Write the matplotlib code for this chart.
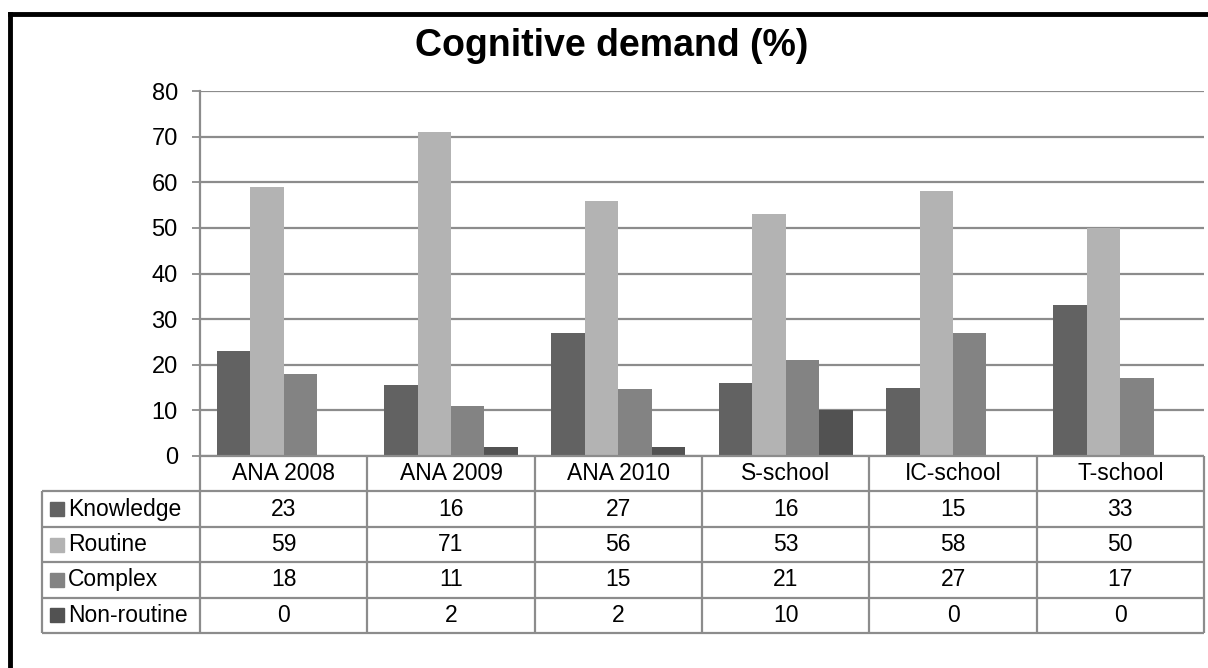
import numpy as np
import matplotlib.pyplot as plt
from matplotlib.lines import Line2D

plt.rcParams['font.family'] = ['Liberation Sans', 'DejaVu Sans']

# data
categories = ['ANA 2008', 'ANA 2009', 'ANA 2010', 'S-school', 'IC-school', 'T-school']
series_names = ['Knowledge', 'Routine', 'Complex', 'Non-routine']
knowledge = [23, 15.5, 27, 16, 15, 33]
routine = [59, 71, 56, 53, 58, 50]
complex_ = [18, 11, 14.6, 21, 27, 17]
non_routine = [0, 2, 2, 10, 0, 0]
y_ticks = [0, 10, 20, 30, 40, 50, 60, 70, 80]

series = [knowledge, routine, complex_, non_routine]
colors = ['#626262', '#b3b3b3', '#838383', '#525252']
grid_c = '#8c8c8c'

W, H = 1208, 668
fig = plt.figure(figsize=(W / 100, H / 100), dpi=100)


def fx(px):
    return px / W


def fy(py):
    return 1 - py / H


# plot area in pixels
L, R, T, B = 200, 1204, 91, 456
ax = fig.add_axes([fx(L), fy(B), fx(R - L), (B - T) / H])

n = len(categories)
x = np.arange(n)
bw = 0.2
for j, vals in enumerate(series):
    ax.bar(x + (j - 1.5) * bw, vals, width=bw, color=colors[j], zorder=3)

ax.set_xlim(-0.5, n - 0.5)
ax.set_ylim(0, 80)
ax.set_yticks(y_ticks)
ax.set_xticks([])
ax.yaxis.grid(True, color=grid_c, lw=1.6, zorder=0)
ax.tick_params(axis='y', length=6, width=1.3, color=grid_c, labelsize=17, pad=10)
for s in ['top', 'right', 'bottom']:
    ax.spines[s].set_visible(False)
ax.spines['left'].set_color(grid_c)
ax.spines['left'].set_linewidth(1.6)

# data table below
TL, TB = 42, 633
unit = (R - L) / n
tax = fig.add_axes([fx(TL), fy(TB), fx(R - TL), (TB - B) / H])
x0 = -0.5 - (L - TL) / unit
tax.set_xlim(x0, n - 0.5)
tax.set_ylim(0, 5)
tax.axis('off')

lw = 1.6
# horizontal lines
tax.hlines([0, 1, 2, 3, 4], x0, n - 0.5, color=grid_c, lw=lw, clip_on=False)
tax.hlines([5], -0.5, n - 0.5, color=grid_c, lw=lw, clip_on=False)
# vertical lines
tax.vlines([x0], 0, 4, color=grid_c, lw=lw, clip_on=False)
tax.vlines(np.arange(n + 1) - 0.5, 0, 5, color=grid_c, lw=lw, clip_on=False)

fs = 16.5
for i, cat in enumerate(categories):
    tax.text(i, 4.5, cat, ha='center', va='center', fontsize=fs)
for k, (name, vals) in enumerate(zip(series_names, series)):
    yc = 3.5 - k
    tax.plot([x0 + 15 / unit], [yc], marker='s', ms=10, color=colors[k],
             ls='none', clip_on=False)
    tax.text(x0 + 26 / unit, yc, name, ha='left', va='center', fontsize=fs)
    for i, v in enumerate(vals):
        tax.text(i, yc, f'{v:.0f}', ha='center', va='center', fontsize=fs)

# title
fig.text(fx(612), fy(56), 'Cognitive demand (%)', ha='center', va='baseline',
         fontsize=27, fontweight='bold')

# outer chart border (cropped on right and bottom)
fig.add_artist(Line2D([fx(10), fx(10)], [fy(14), -0.1], color='black', lw=3.5,
                      transform=fig.transFigure))
fig.add_artist(Line2D([fx(10), 1.1], [fy(14), fy(14)], color='black', lw=3.5,
                      transform=fig.transFigure))

fig.savefig('out.png', dpi=100)
